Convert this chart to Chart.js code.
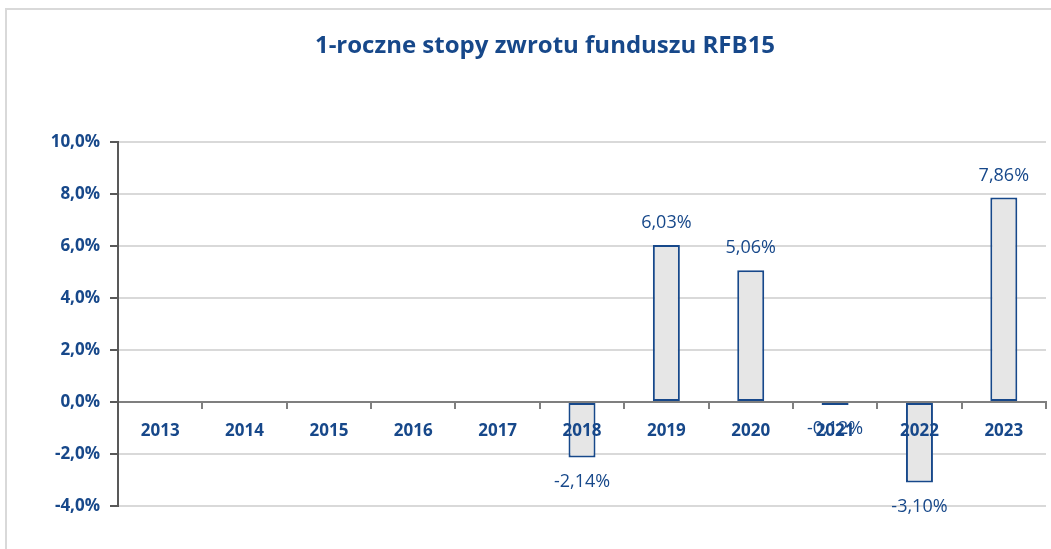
<!DOCTYPE html>
<html>
<head>
<meta charset="utf-8">
<script src="https://cdn.jsdelivr.net/npm/chart.js@4/dist/chart.umd.min.js"></script>
<style>
    html, body { margin: 0; padding: 0; background: #fff; }
    #wrap { position: relative; width: 1051px; height: 549px; overflow: hidden; }
    #frame { position: absolute; left: 5px; top: 8px; width: 1100px; height: 600px; border: 2px solid #d9d9d9; box-sizing: border-box; }
    canvas { position: absolute; left: 0; top: 0; }
</style>
</head>
<body>
<div id="wrap">
    <div id="frame"></div>
    <canvas id="myChart" width="1051" height="549"></canvas>
</div>
<script>
const years = ['2013', '2014', '2015', '2016', '2017', '2018', '2019', '2020', '2021', '2022', '2023'];
const returns = [null, null, null, null, null, -2.14, 6.03, 5.06, -0.12, -3.10, 7.86];
const yTicks = [-4, -2, 0, 2, 4, 6, 8, 10];

const blue = '#17488a';
const fmt = (v, d) => v.toFixed(d).replace('.', ',') + '%';

// value labels above / below the bars
const valueLabels = {
    id: 'valueLabels',
    afterDraw(chart) {
        const ctx = chart.ctx;
        const meta = chart.getDatasetMeta(0);
        ctx.save();
        ctx.font = '18px "Open Sans"';
        ctx.fillStyle = blue;
        ctx.textAlign = 'center';
        meta.data.forEach((bar, i) => {
            const v = returns[i];
            if (v === null) return;
            if (v >= 0) {
                ctx.textBaseline = 'bottom';
                ctx.fillText(fmt(v, 2), bar.x, bar.y - 13);
            } else {
                ctx.textBaseline = 'top';
                ctx.fillText(fmt(v, 2), bar.x, Math.max(bar.y, bar.base) + 15);
            }
        });
        ctx.restore();
    }
};

new Chart(document.getElementById('myChart').getContext('2d'), {
    type: 'bar',
    data: {
        labels: years,
        datasets: [{
            data: returns,
            backgroundColor: '#e6e6e6',
            borderColor: blue,
            borderWidth: 2,
            borderSkipped: false,
            barPercentage: 0.32,
            categoryPercentage: 1
        }]
    },
    options: {
        responsive: false,
        animation: false,
        layout: { padding: { left: 44, right: 5, top: 0, bottom: 43 } },
        plugins: {
            legend: { display: false },
            tooltip: { enabled: false },
            title: {
                display: true,
                text: '1-roczne stopy zwrotu funduszu RFB15',
                color: blue,
                font: { family: 'Open Sans', size: 24, weight: 'bold' },
                padding: { top: 32, bottom: 81 }
            }
        },
        scales: {
            x: {
                position: { y: 0 },
                grid: { display: true, drawOnChartArea: false, drawTicks: true, tickLength: 6, offset: true, color: '#7f7f7f', lineWidth: 2 },
                border: { display: true, color: '#7f7f7f', width: 2 },
                ticks: { z: 1, color: blue, padding: 13, font: { family: 'Open Sans', size: 17, weight: 'bold' }, maxRotation: 0 }
            },
            y: {
                min: -4,
                max: 10,
                afterFit(scale) { scale.width = 74; },
                afterBuildTicks(scale) { scale.ticks = yTicks.map(v => ({ value: v })); },
                grid: { color: '#d9d9d9', lineWidth: 2, tickColor: '#595959', tickLength: 8 },
                border: { display: true, color: '#595959', width: 2 },
                ticks: {
                    color: blue,
                    padding: 10,
                    font: { family: 'Open Sans', size: 17, weight: 'bold' },
                    callback: v => fmt(v, 1)
                }
            }
        }
    },
    plugins: [valueLabels]
});
</script>
</body>
</html>
